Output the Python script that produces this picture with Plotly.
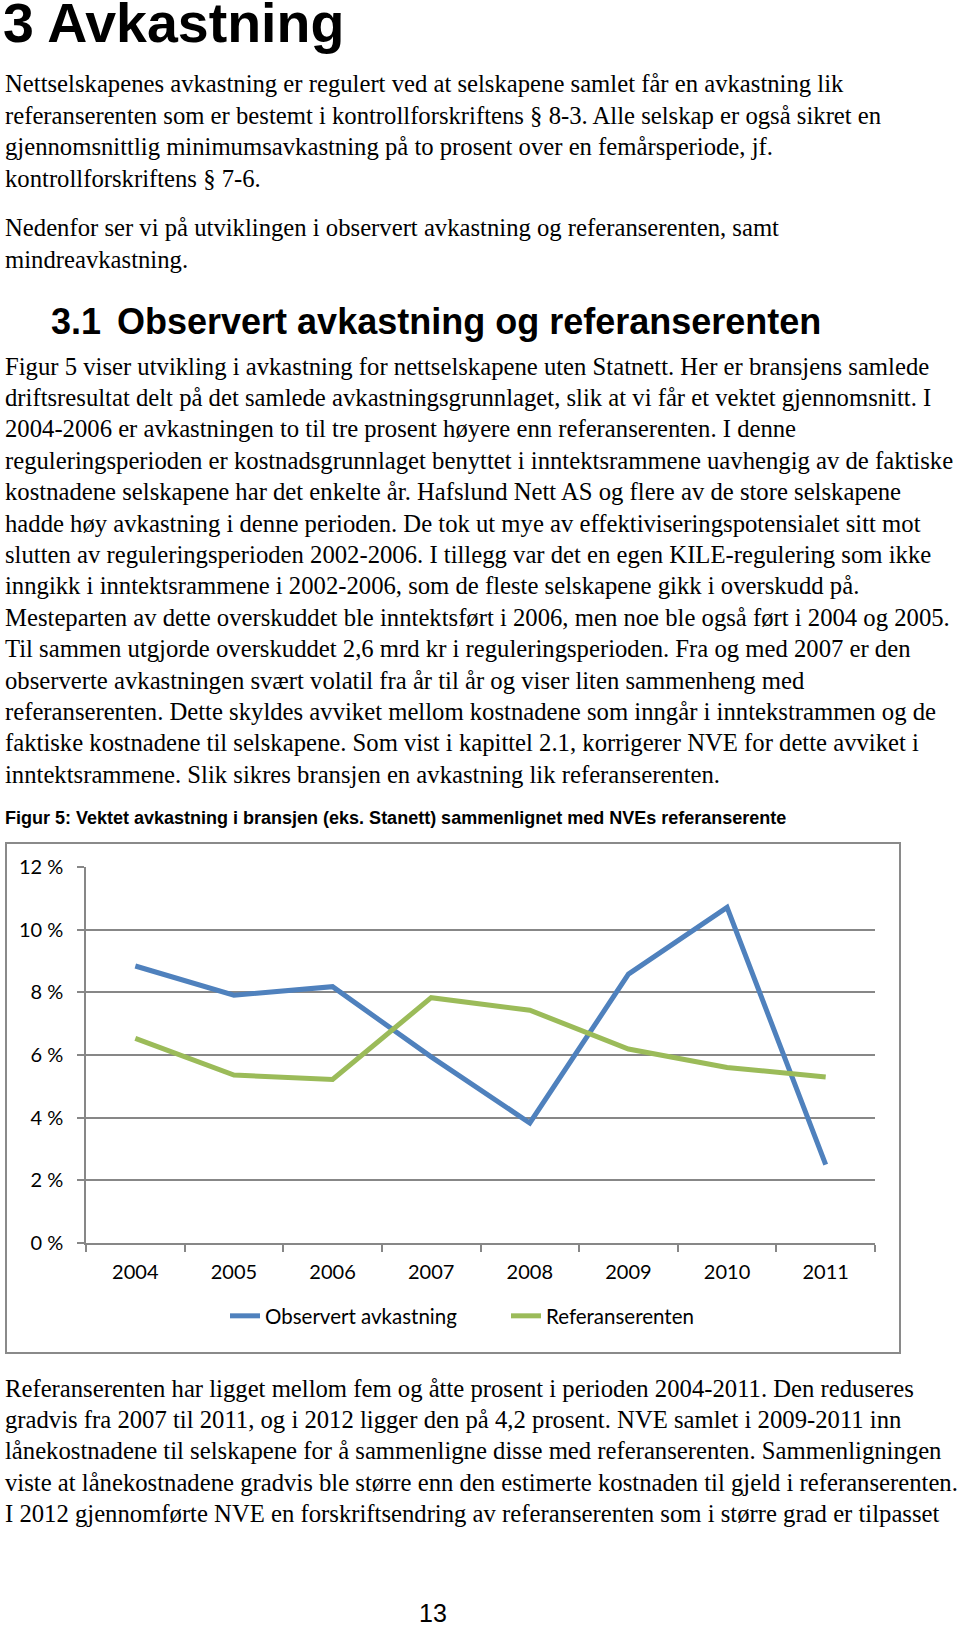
import plotly.graph_objects as go

W, H = 960, 1626

# ---------------- data ----------------
years = ["2004", "2005", "2006", "2007", "2008", "2009", "2010", "2011"]
observert = [0.0884, 0.0791, 0.0818, 0.0594, 0.0383, 0.0858, 0.1071, 0.0250]
referanse = [0.0653, 0.0536, 0.0522, 0.0783, 0.0743, 0.0619, 0.0560, 0.0530]
series_names = ["Observert avkastning", "Referanserenten"]
y_tickvals = [0, 0.02, 0.04, 0.06, 0.08, 0.10, 0.12]
y_ticktext = ["0 %", "2 %", "4 %", "6 %", "8 %", "10 %", "12 %"]

heading = "3 Avkastning"
para1 = [
    "Nettselskapenes avkastning er regulert ved at selskapene samlet får en avkastning lik",
    "referanserenten som er bestemt i kontrollforskriftens § 8-3. Alle selskap er også sikret en",
    "gjennomsnittlig minimumsavkastning på to prosent over en femårsperiode, jf.",
    "kontrollforskriftens § 7-6.",
]
para2 = [
    "Nedenfor ser vi på utviklingen i observert avkastning og referanserenten, samt",
    "mindreavkastning.",
]
subheading_num = "3.1"
subheading = "Observert avkastning og referanserenten"
para3 = [
    "Figur 5 viser utvikling i avkastning for nettselskapene uten Statnett. Her er bransjens samlede",
    "driftsresultat delt på det samlede avkastningsgrunnlaget, slik at vi får et vektet gjennomsnitt. I",
    "2004-2006 er avkastningen to til tre prosent høyere enn referanserenten. I denne",
    "reguleringsperioden er kostnadsgrunnlaget benyttet i inntektsrammene uavhengig av de faktiske",
    "kostnadene selskapene har det enkelte år. Hafslund Nett AS og flere av de store selskapene",
    "hadde høy avkastning i denne perioden. De tok ut mye av effektiviseringspotensialet sitt mot",
    "slutten av reguleringsperioden 2002-2006. I tillegg var det en egen KILE-regulering som ikke",
    "inngikk i inntektsrammene i 2002-2006, som de fleste selskapene gikk i overskudd på.",
    "Mesteparten av dette overskuddet ble inntektsført i 2006, men noe ble også ført i 2004 og 2005.",
    "Til sammen utgjorde overskuddet 2,6 mrd kr i reguleringsperioden. Fra og med 2007 er den",
    "observerte avkastningen svært volatil fra år til år og viser liten sammenheng med",
    "referanserenten. Dette skyldes avviket mellom kostnadene som inngår i inntekstrammen og de",
    "faktiske kostnadene til selskapene. Som vist i kapittel 2.1, korrigerer NVE for dette avviket i",
    "inntektsrammene. Slik sikres bransjen en avkastning lik referanserenten.",
]
caption = "Figur 5: Vektet avkastning i bransjen (eks. Stanett) sammenlignet med NVEs referanserente"
para4 = [
    "Referanserenten har ligget mellom fem og åtte prosent i perioden 2004-2011. Den reduseres",
    "gradvis fra 2007 til 2011, og i 2012 ligger den på 4,2 prosent. NVE samlet i 2009-2011 inn",
    "lånekostnadene til selskapene for å sammenligne disse med referanserenten. Sammenligningen",
    "viste at lånekostnadene gradvis ble større enn den estimerte kostnaden til gjeld i referanserenten.",
    "I 2012 gjennomførte NVE en forskriftsendring av referanserenten som i større grad er tilpasset",
]
page_no = "13"

# ---------------- helpers ----------------
def px_x(x):
    return x / W


def px_y(y):
    return 1 - y / H


SERIF = "Liberation Serif, Times New Roman, serif"
SANS = "Liberation Sans, Arial, sans-serif"
CHART_FONT = "Lato, Open Sans, sans-serif"
BODY_SIZE = 24.7
LINE_H = 31.4

annotations = []


def add_text(text, x, y, size, family, bold=False, xanchor="left"):
    t = f"<b>{text}</b>" if bold else text
    annotations.append(dict(
        text=t, x=px_x(x), y=px_y(y), xref="paper", yref="paper",
        xanchor=xanchor, yanchor="middle", showarrow=False, align="left",
        borderpad=0,
        font=dict(family=family, size=size, color="#000000"),
    ))


def add_para(lines, x, y0):
    for i, line in enumerate(lines):
        add_text(line, x, y0 + i * LINE_H, BODY_SIZE, SERIF)


add_text(heading, 2, 23, 55.5, SANS, bold=True)
add_para(para1, 4, 84)
add_para(para2, 4, 228)
add_text(subheading_num, 50, 322, 36, SANS, bold=True)
add_text(subheading, 116, 322, 36, SANS, bold=True)
add_para(para3, 4, 366)
add_text(caption, 4, 818, 18, SANS, bold=True)
add_para(para4, 4, 1388)
add_text(page_no, 433, 1613, 25, SANS, xanchor="center")

# ---------------- chart ----------------
fig = go.Figure()
fig.add_trace(go.Scatter(
    x=years, y=observert, mode="lines", name=series_names[0],
    line=dict(color="#4F81BD", width=5), hoverinfo="skip",
))
fig.add_trace(go.Scatter(
    x=years, y=referanse, mode="lines", name=series_names[1],
    line=dict(color="#9BBB59", width=5), hoverinfo="skip",
))

plot_l, plot_r = 86, 875
plot_t, plot_b = 867, 1243

grid_col = "#878787"

fig.update_layout(
    width=W, height=H,
    margin=dict(l=0, r=0, t=0, b=0, autoexpand=False),
    paper_bgcolor="white", plot_bgcolor="white",
    showlegend=True,
    legend=dict(
        orientation="h", x=px_x(225), xanchor="left",
        y=px_y(1316), yanchor="middle",
        font=dict(family=CHART_FONT, size=20.5, color="#000000"),
        bgcolor="rgba(0,0,0,0)", entrywidth=236, entrywidthmode="pixels",
    ),
    xaxis=dict(
        domain=[px_x(plot_l), px_x(plot_r)],
        type="category", tickson="boundaries",
        range=[-0.5, len(years) - 0.5],
        showgrid=False, showline=True, linecolor=grid_col, linewidth=1.5,
        ticks="outside", ticklen=7, tickcolor=grid_col, tickwidth=1.5,
        tickfont=dict(family=CHART_FONT, size=20, color="#000000"),
        ticklabelstandoff=10, fixedrange=True, automargin=False,
    ),
    yaxis=dict(
        domain=[px_y(plot_b), px_y(plot_t)],
        range=[0, 0.12],
        tickvals=y_tickvals, ticktext=y_ticktext,
        showgrid=True, gridcolor=grid_col, gridwidth=1.5,
        showline=True, linecolor=grid_col, linewidth=1.5,
        ticks="outside", ticklen=7, tickcolor=grid_col, tickwidth=1.5,
        tickfont=dict(family=CHART_FONT, size=20, color="#000000"),
        ticklabelstandoff=10, zeroline=False, fixedrange=True, automargin=False,
    ),
    annotations=annotations,
    shapes=[dict(
        type="rect", xref="paper", yref="paper",
        x0=px_x(6), x1=px_x(900), y0=px_y(1353), y1=px_y(843),
        line=dict(color="#8A8A8A", width=2), fillcolor="rgba(0,0,0,0)", layer="below",
    )],
)

fig.write_html(
    "out.html",
    config={"displayModeBar": False},
    post_script="document.body.style.margin='0';document.body.style.padding='0';",
)
